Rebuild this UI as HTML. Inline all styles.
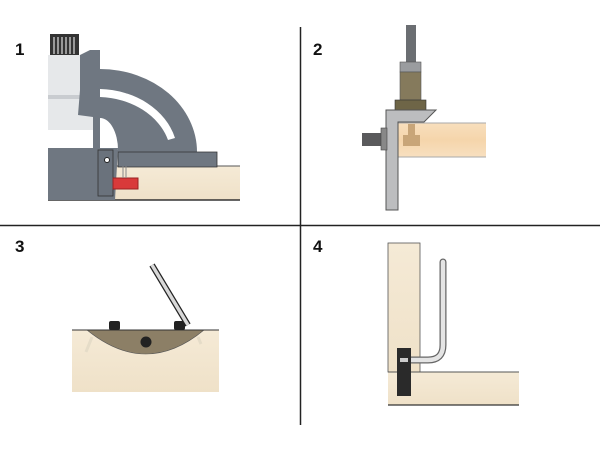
<!DOCTYPE html>
<html><head><style>body{margin:0;background:#fff}svg{display:block}text{font-family:"Liberation Sans",sans-serif;font-weight:bold;font-size:17px;fill:#111}</style></head><body>
<svg width="600" height="450" viewBox="0 0 600 450">
<defs>
<linearGradient id="wd" x1="0" y1="0" x2="0" y2="1"><stop offset="0" stop-color="#f5ead6"/><stop offset="1" stop-color="#efe1c8"/></linearGradient>
<linearGradient id="wd2" x1="0" y1="0" x2="0" y2="1"><stop offset="0" stop-color="#f8dfbd"/><stop offset="0.5" stop-color="#f5d5ab"/><stop offset="1" stop-color="#f8e0c0"/></linearGradient>
</defs>
<line x1="300.5" y1="27" x2="300.5" y2="425" stroke="#222" stroke-width="1.5"/>
<line x1="0" y1="225.5" x2="600" y2="225.5" stroke="#222" stroke-width="1.5"/>
<text x="15" y="55">1</text><text x="313" y="55">2</text><text x="15" y="252">3</text><text x="313" y="252">4</text>

<!-- Panel 1 -->
<rect x="115" y="166" width="125" height="34" fill="url(#wd)"/>
<line x1="115" y1="166" x2="240" y2="166" stroke="#555"/><line x1="48" y1="200" x2="240" y2="200" stroke="#333" stroke-width="1.5"/>
<path d="M100 69 A97 83 0 0 1 197 152 L100 152 Z" fill="#6f7781"/>
<path d="M100 89 A80 66 0 0 1 175 138 L168 140 A74 60 0 0 0 100 97 Z" fill="#fff"/>
<path d="M100 118 A18 32 0 0 1 118 150 L100 150 Z" fill="#fff"/>
<rect x="48" y="55" width="50" height="75" fill="#e6e8ea"/>
<rect x="48" y="95" width="42" height="4" fill="#c9ccd0"/>
<rect x="50" y="34" width="29" height="21" fill="#333"/>
<g stroke="#ddd" stroke-width="1.2"><line x1="54" y1="37" x2="54" y2="54"/><line x1="58" y1="37" x2="58" y2="54"/><line x1="62" y1="37" x2="62" y2="54"/><line x1="66" y1="37" x2="66" y2="54"/><line x1="70" y1="37" x2="70" y2="54"/><line x1="74" y1="37" x2="74" y2="54"/></g>
<path d="M80 55 L90 50 L100 50 L100 150 L93 150 L93 117 L78 115 L80 90 Z" fill="#6f7781"/>
<path d="M118 152 L217 152 L217 167 L118 167 Z" fill="#6f7781" stroke="#333" stroke-width="0.8"/>
<path d="M48 148 L118 148 L115 200 L48 200 Z" fill="#6f7781"/>
<rect x="98" y="150" width="15" height="46" fill="#6a727c" stroke="#333" stroke-width="0.8"/>
<circle cx="107" cy="160" r="2.5" fill="#fff" stroke="#222"/>
<rect x="113" y="178" width="25" height="11" fill="#d93a3a" stroke="#922"/>
<line x1="123" y1="166" x2="123" y2="178" stroke="#888"/><line x1="126" y1="166" x2="126" y2="178" stroke="#888"/>

<!-- Panel 2 -->
<rect x="398" y="123" width="88" height="34" fill="url(#wd2)"/>
<line x1="398" y1="123" x2="486" y2="123" stroke="#aaa"/><line x1="398" y1="157" x2="486" y2="157" stroke="#aaa"/>
<rect x="406" y="25" width="10" height="37" fill="#6b6e72"/>
<rect x="400" y="62" width="21" height="10" fill="#9a9c9f" stroke="#555" stroke-width="0.6"/>
<rect x="400" y="72" width="21" height="28" fill="#857a5c" stroke="#555" stroke-width="0.6"/>
<rect x="395" y="100" width="31" height="10" fill="#6e6547" stroke="#333" stroke-width="0.6"/>
<path d="M386 110 L436 110 L424 122 L398 122 L398 210 L386 210 Z" fill="#bcbdbf" stroke="#555"/>
<rect x="362" y="133" width="20" height="13" fill="#5a5a5c"/>
<rect x="381" y="128" width="6" height="22" fill="#888" stroke="#444" stroke-width="0.6"/>
<rect x="403" y="135" width="17" height="11" fill="#c8a578"/>
<rect x="408" y="124" width="7" height="11" fill="#c8a578"/>

<!-- Panel 3 -->
<rect x="72" y="330" width="147" height="62" fill="url(#wd)"/>
<path d="M87 330 L204 330 Q146 378 87 330 Z" fill="#8c7f66" stroke="#555" stroke-width="0.6"/>
<line x1="92" y1="337" x2="86" y2="352" stroke="#e5dcc8" stroke-width="3"/>
<line x1="198" y1="337" x2="201" y2="344" stroke="#e5dcc8" stroke-width="3"/>
<line x1="72" y1="330" x2="219" y2="330" stroke="#333"/>
<circle cx="146" cy="342" r="5.5" fill="#222"/>
<rect x="109" y="321" width="11" height="9" rx="2" fill="#222"/>
<rect x="174" y="321" width="11" height="9" rx="2" fill="#222"/>
<line x1="152" y1="265" x2="188" y2="325" stroke="#222" stroke-width="6"/>
<line x1="152" y1="265" x2="188" y2="325" stroke="#d8d8d8" stroke-width="3.5"/>

<!-- Panel 4 -->
<rect x="388" y="243" width="32" height="129" fill="url(#wd)" stroke="#555" stroke-width="0.8"/>
<rect x="388" y="372" width="131" height="33" fill="url(#wd)"/>
<line x1="388" y1="372" x2="519" y2="372" stroke="#555"/><line x1="388" y1="405" x2="519" y2="405" stroke="#333" stroke-width="1.2"/>
<path d="M443 262 L443 345 Q443 360 428 360 L411 360" fill="none" stroke="#666" stroke-width="7" stroke-linecap="round"/>
<path d="M443 262 L443 345 Q443 360 428 360 L411 360" fill="none" stroke="#e4e4e4" stroke-width="4.5" stroke-linecap="round"/>
<rect x="397" y="348" width="14" height="48" fill="#2a2a2a"/>
<rect x="400" y="358" width="8" height="4" fill="#ccc"/>
</svg>
</body></html>
